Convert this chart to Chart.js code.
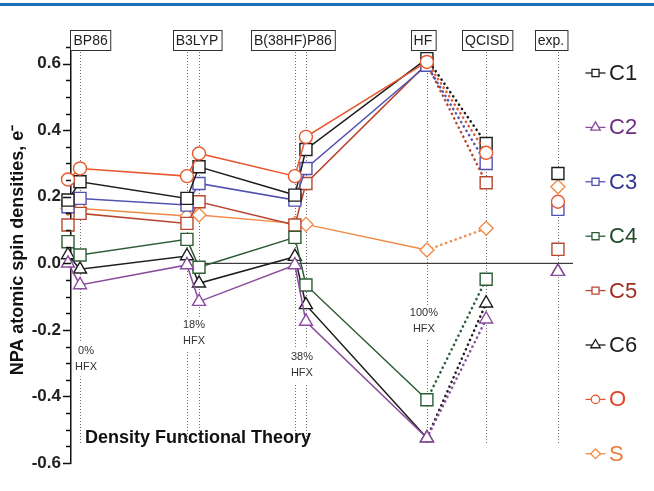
<!DOCTYPE html>
<html>
<head>
<meta charset="utf-8">
<script src="https://cdn.jsdelivr.net/npm/chart.js@4.4.0/dist/chart.umd.min.js"></script>
<style>
html, body { margin: 0; padding: 0; background: #fff; }
#wrap { position: relative; width: 654px; height: 491px; overflow: hidden; }
#rule { position: absolute; left: 0; top: 3px; width: 654px; height: 3px; background: #1f6fb6; }
canvas { position: absolute; left: 0; top: 0; }
</style>
</head>
<body>
<div id="wrap">
  <canvas id="chart" width="654" height="491"></canvas>
  <div id="rule"></div>
</div>
<script>
// columns of the plot: two geometries per DFT method, then HF, QCISD, exp.
var columns = ['BP86 a', 'BP86 b', 'B3LYP a', 'B3LYP b', 'B(38HF)P86 a', 'B(38HF)P86 b', 'HF', 'QCISD', 'exp.'];
var columnX = [-0.06, 0.18, 2.31, 2.55, 4.46, 4.68, 7.09, 8.27, 9.70];

var methodNames = ['BP86', 'B3LYP', 'B(38HF)P86', 'HF', 'QCISD', 'exp.'];
var methodX = [0.39, 2.51, 4.42, 7.01, 8.29, 9.56];

var hfxNames = ['0%', '18%', '38%', '100%'];
var hfxX = [0.30, 2.45, 4.60, 7.03];
var hfxY = [-0.262, -0.185, -0.281, -0.149];

var seriesNames = ['C1', 'C2', 'C3', 'C4', 'C5', 'C6', 'O', 'S'];
var c1 = [0.19, 0.245, 0.195, 0.29, 0.205, 0.342, 0.615, 0.36, 0.27];
var c2 = [0.0, -0.065, -0.005, -0.115, -0.005, -0.175, -0.525, -0.168, -0.025];
var c3 = [0.17, 0.195, 0.175, 0.24, 0.19, 0.285, 0.595, 0.30, 0.162];
var c4 = [0.065, 0.025, 0.072, -0.012, 0.078, -0.065, -0.41, -0.048, null];
var c5 = [0.115, 0.15, 0.12, 0.185, 0.115, 0.24, 0.60, 0.242, 0.042];
var c6 = [0.025, -0.018, 0.022, -0.06, 0.02, -0.125, -0.525, -0.12, -0.025];
var oxy = [0.252, 0.285, 0.262, 0.33, 0.262, 0.38, 0.605, 0.332, 0.185];
var sul = [0.165, 0.165, 0.142, 0.145, 0.12, 0.117, 0.04, 0.105, 0.23];

// y axis: ticks every 0.05, labels every 0.2
var yMin = -0.6, yMax = 0.68;
var yTickValues = [-0.6, -0.55, -0.5, -0.45, -0.4, -0.35, -0.3, -0.25, -0.2, -0.15, -0.1, -0.05,
    0, 0.05, 0.1, 0.15, 0.2, 0.25, 0.3, 0.35, 0.4, 0.45, 0.5, 0.55, 0.6, 0.65];
var yLabelValues = [-0.6, -0.4, -0.2, 0, 0.2, 0.4, 0.6];

var seriesValues = [c1, c2, c3, c4, c5, c6, oxy, sul];
var lineColors = ['#1c1c1c', '#8a4c9e', '#5252b2', '#2c5c34', '#b8472f', '#1c1c1c', '#e8582f', '#f08a46'];
var textColors = ['#1c1c1c', '#6c2c7e', '#2f3592', '#1f4a2a', '#a02d20', '#1c1c1c', '#e2452a', '#ee7d3c'];
var markers = ['rect', 'triangle', 'rect', 'rect', 'rect', 'triangle', 'circle', 'rectRot'];
var markerSize = { rect: 8.5, triangle: 7.5, circle: 6.5, rectRot: 7 };
var legendSize = { rect: 5, triangle: 5.5, circle: 4.2, rectRot: 4.8 };

var FONT = '"Liberation Sans", Arial, Helvetica, sans-serif';

function isMajor(v) {
    return yLabelValues.some(function (m) { return Math.abs(m - v) < 1e-9; });
}

function toPoints(values) {
    return values.map(function (v, i) { return { x: columnX[i], y: v }; });
}

var datasets = seriesValues.map(function (vals, i) {
    var m = markers[i];
    return {
        label: seriesNames[i],
        data: toPoints(vals),
        borderColor: lineColors[i],
        backgroundColor: '#ffffff',
        borderWidth: 1.5,
        borderCapStyle: 'round',
        pointStyle: m,
        pointRadius: markerSize[m],
        pointBorderWidth: 1.4,
        pointBorderColor: lineColors[i],
        pointBackgroundColor: '#ffffff',
        clip: false,
        spanGaps: false,
        // O circles sit on top of the squares
        order: seriesNames[i] === 'O' ? 0 : 1,
        segment: {
            borderDash: function (ctx) { return ctx.p1DataIndex === 7 ? [0.1, 5] : undefined; },
            borderWidth: function (ctx) { return ctx.p1DataIndex === 7 ? 2.6 : undefined; },
            borderColor: function (ctx) { return ctx.p1DataIndex === 8 ? 'rgba(0,0,0,0)' : undefined; }
        }
    };
});

// zero line, from the B3LYP column to the right end of the plot
datasets.push({
    label: 'zero',
    data: [{ x: columnX[3], y: 0 }, { x: 10, y: 0 }],
    borderColor: '#111',
    borderWidth: 1,
    pointRadius: 0,
    clip: false,
    order: 5
});

var decorations = {
    id: 'decorations',
    beforeDatasetsDraw: function (chart) {
        var ctx = chart.ctx, xs = chart.scales.x, ys = chart.scales.y;
        ctx.save();
        // dotted column guides
        ctx.strokeStyle = '#6a6a6a';
        ctx.lineWidth = 1;
        ctx.setLineDash([1, 2]);
        for (var i = 1; i < columnX.length; i++) {
            var px = Math.round(xs.getPixelForValue(columnX[i])) + 0.5;
            ctx.beginPath();
            ctx.moveTo(px, ys.getPixelForValue(0.635));
            ctx.lineTo(px, ys.getPixelForValue(-0.545));
            ctx.stroke();
        }
        ctx.setLineDash([]);
        // % HFX notes
        ctx.font = '11px ' + FONT;
        ctx.textAlign = 'center';
        ctx.textBaseline = 'middle';
        hfxNames.forEach(function (name, k) {
            var cx = xs.getPixelForValue(hfxX[k]);
            var cy = ys.getPixelForValue(hfxY[k]);
            ctx.fillStyle = '#fff';
            ctx.fillRect(cx - 13, cy - 8, 26, 34);
            ctx.fillStyle = '#333';
            ctx.fillText(name, cx, cy);
            ctx.fillText('HFX', cx, cy + 16);
        });
        ctx.restore();
    },
    afterDraw: function (chart) {
        var ctx = chart.ctx, xs = chart.scales.x, ys = chart.scales.y;
        var area = chart.chartArea;
        ctx.save();
        // y ticks, long at labelled values
        ctx.strokeStyle = '#111';
        ctx.lineWidth = 1.5;
        ys.ticks.forEach(function (t) {
            var py = Math.round(ys.getPixelForValue(t.value)) + 0.5;
            var len = isMajor(t.value) ? 8 : 5;
            ctx.beginPath();
            ctx.moveTo(area.left - len, py);
            ctx.lineTo(area.left, py);
            ctx.stroke();
        });
        // method boxes on top
        ctx.font = '14px ' + FONT;
        ctx.textAlign = 'center';
        ctx.textBaseline = 'middle';
        ctx.lineWidth = 1;
        methodNames.forEach(function (name, k) {
            var cx = xs.getPixelForValue(methodX[k]);
            var w = ctx.measureText(name).width + 6;
            var bx = Math.round(cx - w / 2) + 0.5;
            ctx.fillStyle = '#fff';
            ctx.fillRect(bx, 30.5, w, 20);
            ctx.strokeStyle = '#333';
            ctx.strokeRect(bx, 30.5, w, 20);
            ctx.fillStyle = '#222';
            ctx.fillText(name, cx, 41);
        });
        // axis caption inside the plot
        ctx.font = 'bold 18px ' + FONT;
        ctx.textAlign = 'left';
        ctx.fillStyle = '#111';
        ctx.fillText('Density Functional Theory', area.left + 14, area.bottom - 25);
        // legend
        var lx = 595.5;
        chart.data.datasets.forEach(function (ds, i) {
            if (i >= seriesNames.length) return;
            var ly = 73 + i * 54.4;
            ctx.strokeStyle = lineColors[i];
            ctx.lineWidth = 1.3;
            ctx.beginPath();
            ctx.moveTo(lx - 10, ly);
            ctx.lineTo(lx + 10, ly);
            ctx.stroke();
            ctx.fillStyle = '#fff';
            Chart.helpers.drawPoint(ctx, {
                pointStyle: markers[i], rotation: 0,
                radius: legendSize[markers[i]], borderWidth: 1.1
            }, lx, ly);
            ctx.font = '22px ' + FONT;
            ctx.textAlign = 'left';
            ctx.fillStyle = textColors[i];
            ctx.fillText(seriesNames[i], 609, ly + 1);
        });
        ctx.restore();
    }
};

new Chart(document.getElementById('chart'), {
    type: 'line',
    data: { datasets: datasets },
    options: {
        responsive: false,
        animation: false,
        events: [],
        layout: { padding: { left: 0, top: 37, right: 81, bottom: 28 } },
        plugins: {
            legend: { display: false },
            tooltip: { enabled: false },
            title: { display: false }
        },
        scales: {
            x: {
                type: 'linear',
                display: false,
                min: 0,
                max: 10
            },
            y: {
                type: 'linear',
                min: yMin,
                max: yMax,
                afterFit: function (scale) { scale.width = 71; },
                afterBuildTicks: function (scale) {
                    scale.ticks = yTickValues.map(function (v) { return { value: v }; });
                },
                border: { display: true, color: '#111', width: 1.5 },
                grid: { display: true, drawOnChartArea: false, drawTicks: false },
                ticks: {
                    autoSkip: false,
                    padding: 10,
                    color: '#222',
                    font: { family: FONT, size: 17, weight: 'bold' },
                    callback: function (v) {
                        if (!isMajor(v)) return '';
                        return Math.abs(v) < 1e-9 ? '0.0' : v.toFixed(1);
                    }
                },
                title: {
                    display: true,
                    text: 'NPA atomic spin densities, e\u207B',
                    color: '#111',
                    font: { family: FONT, size: 18, weight: 'bold' },
                    padding: { top: 7, bottom: 0 }
                }
            }
        }
    },
    plugins: [decorations]
});
</script>
</body>
</html>
